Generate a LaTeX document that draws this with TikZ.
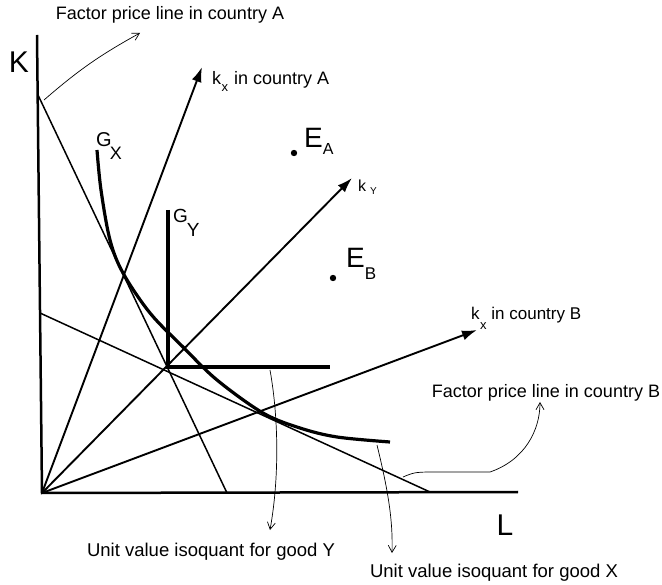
\documentclass[tikz,border=0pt]{standalone}
\usepackage{fontspec}
\setmainfont{Liberation Sans}
\usetikzlibrary{arrows.meta}
\tikzset{
	font=\fontsize{18}{20}\selectfont,
	>={Latex[length=15pt,width=10pt]},
	axis/.style={line width=2.5pt},
	ray/.style={line width=1.9pt,->},
	priceline/.style={line width=1.5pt},
	isoquant/.style={line width=3.2pt},
	pointer/.style={line width=0.7pt,-{Straight Barb[length=7pt,width=8pt]}},
	lab/.style={inner sep=0pt}
}

\begin{document}
\begin{tikzpicture}[x=1pt,y=-1pt]  % pixel-like units, y downwards
\useasboundingbox (0,0) rectangle (662,585);

% points
\coordinate (O) at (42,493);
\coordinate (Ktop) at (37,35);
\coordinate (Lend) at (518,492);
\coordinate (P) at (168,367);
\coordinate (fpA1) at (38,95);
\coordinate (fpA2) at (227,493);
\coordinate (fpB1) at (40,313);
\coordinate (fpB2) at (430,492);
\coordinate (kxA) at (202,67);
\coordinate (kY) at (352,178);
\coordinate (kxB) at (477,330);
\coordinate (EA) at (294,153);
\coordinate (EB) at (333,278);

% axes
\draw[axis] (Ktop) -- (O) -- (Lend);
\node[lab,font=\fontsize{30}{30}\selectfont] (K) at (19,62) {K};
\node[lab,font=\fontsize{30}{30}\selectfont] (L) at (505,525) {L};

% factor price lines
\draw[priceline] (fpA1) -- (fpA2);
\draw[priceline] (fpB1) -- (fpB2);

% rays from the origin
\draw[ray] (O) -- (kxA);
\draw[ray] (O) -- (kY);
\draw[ray] (O) -- (kxB);

\node[lab,anchor=base west] (kxAlab) at (212,85)
	{k\kern0.5pt\raisebox{-7pt}{\fontsize{13}{13}\selectfont x} \kern1pt in country A};
\node[lab,anchor=base west,font=\fontsize{16}{16}\selectfont] (kYlab) at (358,192)
	{k\kern4pt\raisebox{-3pt}{\fontsize{10}{10}\selectfont Y}};
\node[lab,anchor=base west,font=\fontsize{17}{19}\selectfont] (kxBlab) at (471,320)
	{k\kern0.5pt\raisebox{-10pt}{\fontsize{13}{13}\selectfont x} \kern0pt in country B};

% isoquants
\draw[isoquant] plot[smooth,tension=0.55] coordinates {(97,150) (101,190) (110,240) (123,273) (150,313) (183,347) (217,380) (263,413) (300,428) (337,437) (390,442)};
\draw[isoquant] (168,210) -- (P) -- (330,367);

\node[lab,anchor=base west,font=\fontsize{20}{20}\selectfont] (GX) at (96,147)
	{G\kern-2pt\raisebox{-13pt}{\fontsize{18}{18}\selectfont X}};
\node[lab,anchor=base west,font=\fontsize{19}{19}\selectfont] (GY) at (173,223)
	{G\kern-1pt\raisebox{-14pt}{\fontsize{19}{19}\selectfont Y}};

% endowment points
\fill (EA) circle (3.2);
\fill (EB) circle (3.2);
\node[lab,anchor=base west,font=\fontsize{28}{28}\selectfont] (EAlab) at (304,148)
	{E\raisebox{-7pt}{\fontsize{16}{16}\selectfont A}};
\node[lab,anchor=base west,font=\fontsize{28}{28}\selectfont] (EBlab) at (346,268)
	{E\raisebox{-12pt}{\fontsize{17}{17}\selectfont B}};

% labels with pointers
\node[lab] (fpAlab) at (170,15) {Factor price line in country A};
\node[lab] (fpBlab) at (546,393) {Factor price line in country B};
\node[lab,font=\fontsize{18.5}{20}\selectfont] (uvY) at (211,552) {Unit value isoquant for good Y};
\node[lab,font=\fontsize{18.5}{20}\selectfont] (uvX) at (494,573) {Unit value isoquant for good X};

\coordinate (pA) at (44,100);
\coordinate (pAend) at (140,33);
\coordinate (pB) at (403,477);
\coordinate (pBend) at (540,402);
\coordinate (pY) at (270,370);
\coordinate (pYend) at (270,530);
\coordinate (pX) at (377,445);
\coordinate (pXend) at (392,553);

\draw[pointer] (pA) to[bend left=6] (pAend);
\draw[pointer] (pB) .. controls (415,472) .. (440,472) -- (490,472)
	.. controls (525,460) and (540,430) .. (pBend);
\draw[pointer] (pY) .. controls (279,420) and (279,480) .. (pYend);
\draw[pointer] (pX) .. controls (388,490) and (393,520) .. (pXend);

\end{tikzpicture}
\end{document}
